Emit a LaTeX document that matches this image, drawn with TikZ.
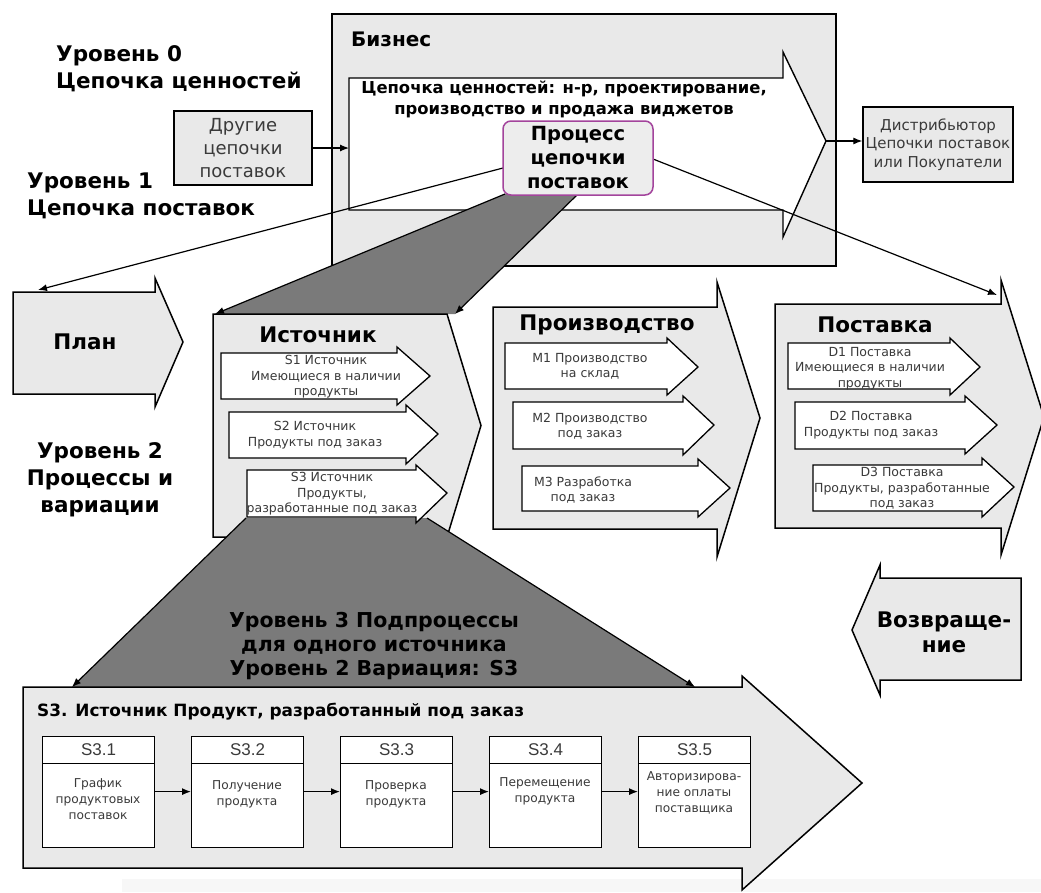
\documentclass[tikz,border=0pt]{standalone}
\usepackage{fontspec}
\setmainfont{DejaVu Sans}
\newfontfamily\labelfont{Liberation Sans}
\usetikzlibrary{arrows.meta}

\definecolor{panel}{HTML}{E9E9E9}
\definecolor{funnel}{HTML}{7A7A7A}
\definecolor{procedge}{HTML}{A3449C}
\definecolor{note}{HTML}{3A3A3A}

% block arrow: style, left, body top, body bottom, body right, head top, head bottom, tip x, tip y
\newcommand{\blockarrow}[9]{%
  \draw[#1] (#2,#3) -- (#5,#3) -- (#5,#6) -- (#8,#9) -- (#5,#7) -- (#5,#4) -- (#2,#4) -- cycle;}

\tikzset{
  bigshape/.style={draw=black, line width=1.5pt, fill=panel},
  whiteshape/.style={draw=black, line width=1.4pt, fill=white},
  smallarrow/.style={draw=black, line width=1.3pt, fill=white},
  conn/.style={draw=black, line width=1.2pt, -{Latex[length=9pt,width=7pt]}},
  lvltext/.style={font=\bfseries\fontsize{21.5}{27}\selectfont, inner sep=0pt},
  headtext/.style={font=\bfseries\fontsize{21.5}{25}\selectfont, inner sep=0pt, align=center},
  midtext/.style={font=\bfseries\fontsize{16.4}{21}\selectfont, inner sep=0pt, align=center},
  smalltext/.style={font=\fontsize{12.5}{15.5}\selectfont, text=note, inner sep=0pt, align=center},
  boxtext/.style={font=\fontsize{12.2}{16}\selectfont, text=note, inner sep=0pt, align=center},
  subhead/.style={draw=black, line width=1.2pt, fill=white, minimum width=112pt, minimum height=27pt,
                  inner sep=0pt, font=\labelfont\fontsize{17}{20}\selectfont, text=note},
  subbody/.style={draw=black, line width=1.2pt, fill=white, minimum width=112pt, minimum height=84pt, inner sep=0pt},
}

\begin{document}
\begin{tikzpicture}[x=1pt, y=-1pt]
  \useasboundingbox (0,0) rectangle (1041,892);
  \fill[white] (0,0) rectangle (1041,892);
  \fill[black!3] (122,879) rectangle (1041,892);

  % ---------- level 0: business and value chain ----------
  \draw[bigshape] (332,14) rectangle (836,266);
  \node[lvltext, font=\bfseries\fontsize{20}{24}\selectfont, anchor=west] (biz) at (351,39) {Бизнес};
  \blockarrow{whiteshape}{349}{78}{210}{783}{52}{237}{826}{141}
  \coordinate (vcin) at (349,148);
  \coordinate (vctip) at (826,141);
  \node[midtext] (vctext) at (564,99.5) {Цепочка ценностей: н-р, проектирование,\\производство и продажа виджетов};

  \node[draw=black, line width=1.3pt, fill=panel, minimum width=138pt, minimum height=74pt, inner sep=0pt,
        font=\fontsize{18}{23}\selectfont, text=note, align=center] (other) at (243,148) {Другие\\цепочки\\поставок};
  \node[draw=black, line width=1.3pt, fill=panel, minimum width=150pt, minimum height=75pt, inner sep=0pt,
        font=\fontsize{15}{18.5}\selectfont, text=note, align=center] (distr) at (938,144.5) {Дистрибьютор\\Цепочки поставок\\или Покупатели};
  \draw[conn] (other.east) -- (vcin);
  \draw[conn] (vctip) -- (distr.west |- vctip);

  \node[lvltext, align=left, anchor=west] (lvl0) at (56,68.5) {Уровень 0\\Цепочка ценностей};
  \node[lvltext, align=left, anchor=west] (lvl1) at (27,196) {Уровень 1\\Цепочка поставок};

  % ---------- level 2: process blocks ----------
  \blockarrow{bigshape}{13}{292}{394}{155}{278}{407}{183}{342}
  \node[headtext] (plan) at (85,342) {План};

  % funnel from the supply chain process down to the source block
  \coordinate (ftl) at (505,194);
  \coordinate (ftr) at (577,195);
  \coordinate (fbl) at (215,314);
  \coordinate (fbr) at (455,314);
  \fill[funnel] (ftl) -- (ftr) -- (fbr) -- (fbl) -- cycle;

  \draw[bigshape] (213,314) -- (447,314) -- (481,425.5) -- (447,537) -- (213,537) -- cycle;
  \node[headtext] (src) at (318,335) {Источник};

  \draw[conn] (ftl) -- (fbl);
  \draw[conn] (ftr) -- (fbr);

  \blockarrow{bigshape}{493}{307}{529}{717}{282}{557}{760}{418}
  \node[headtext] (make) at (607,325) {Производство};
  \blockarrow{bigshape}{775}{304}{528}{1001}{280}{555}{1044}{417}
  \node[headtext] (deliv) at (875,325) {Поставка};

  % supply chain process and its links
  \coordinate (procl) at (503,168);
  \coordinate (procr) at (653,159);
  \coordinate (plantop) at (38,290);
  \coordinate (delivtop) at (997,295);
  \draw[conn] (procl) -- (plantop);
  \draw[conn] (procr) -- (delivtop);
  \node[draw=procedge, line width=1.5pt, fill=black!7, rounded corners=8pt, minimum width=150pt,
        minimum height=74pt, inner sep=0pt, font=\bfseries\fontsize{19.5}{24}\selectfont, align=center]
        (proc) at (578,158) {Процесс\\цепочки\\поставок};

  % funnel from the S3 variation down to the level 3 block
  \coordinate (gtl) at (246,518);
  \coordinate (gtr) at (427,518);
  \coordinate (gbl) at (72,687);
  \coordinate (gbr) at (695,687);
  \fill[funnel] (gtl) -- (gtr) -- (gbr) -- (gbl) -- cycle;

  % source variations
  \blockarrow{smallarrow}{221}{353}{399}{397}{347}{405}{430}{376}
  \node[smalltext] (s1) at (326,377) {S1 Источник\\Имеющиеся в наличии\\продукты};
  \blockarrow{smallarrow}{229}{412}{458}{406}{405}{464}{438}{434}
  \node[smalltext] (s2) at (315,435) {S2 Источник\\Продукты под заказ};
  \blockarrow{smallarrow}{247}{470}{517}{416}{465}{523}{447}{493}
  \node[smalltext] (s3) at (332,494) {S3 Источник\\Продукты,\\разработанные под заказ};

  % make variations
  \blockarrow{smallarrow}{505}{343}{389}{667}{338}{395}{698}{367}
  \node[smalltext] (m1) at (590,366.5) {M1 Производство\\на склад};
  \blockarrow{smallarrow}{513}{402}{449}{683}{396}{455}{714}{425}
  \node[smalltext] (m2) at (590,426) {M2 Производство\\под заказ};
  \blockarrow{smallarrow}{522}{466}{511}{698}{459}{517}{730}{488}
  \node[smalltext] (m3) at (583,490) {M3 Разработка\\под заказ};

  % deliver variations
  \blockarrow{smallarrow}{788}{343}{389}{950}{338}{395}{980}{367}
  \node[smalltext] (d1) at (870,368.5) {D1 Поставка\\Имеющиеся в наличии\\продукты};
  \blockarrow{smallarrow}{795}{402}{449}{965}{396}{454}{997}{425}
  \node[smalltext] (d2) at (871,425) {D2 Поставка\\Продукты под заказ};
  \blockarrow{smallarrow}{813}{465}{511}{982}{458}{517}{1014}{487}
  \node[smalltext] (d3) at (902,488.5) {D3 Поставка\\Продукты, разработанные\\под заказ};

  \node[lvltext, align=center] (lvl2) at (100,480) {Уровень 2\\Процессы и\\вариации};

  % return
  \blockarrow{bigshape}{1021}{578}{680}{880}{565}{695}{852}{630}
  \node[headtext] (ret) at (944,632) {Возвраще-\\ние};

  % ---------- level 3: subprocesses of S3 ----------
  \blockarrow{bigshape}{23}{687}{868}{742}{676}{890}{862}{783}
  \draw[conn] (gtl) -- (gbl);
  \draw[conn] (gtr) -- (gbr);
  \node[lvltext, font=\bfseries\fontsize{20.5}{24}\selectfont, align=center] (lvl3) at (374,646)
       {Уровень 3 Подпроцессы\\для одного источника\\Уровень 2 Вариация: S3};
  \node[midtext, font=\bfseries\fontsize{16.9}{21}\selectfont, anchor=west] (s3head) at (37,712)
       {S3. Источник Продукт, разработанный под заказ};

  \foreach \k/\x in {1/42,2/191,3/340,4/489,5/638}{
    \node[subbody, anchor=north west] (b\k) at (\x,763) {};
    \node[subhead, anchor=north west] (h\k) at (\x,736) {S3.\k};
  }
  \node[boxtext] (t1) at (98,799) {График\\продуктовых\\поставок};
  \node[boxtext] (t2) at (247,794.5) {Получение\\продукта};
  \node[boxtext] (t3) at (396,794.5) {Проверка\\продукта};
  \node[boxtext] (t4) at (545,791) {Перемещение\\продукта};
  \node[boxtext] (t5) at (694,793) {Авторизирова-\\ние оплаты\\поставщика};

  \foreach \a/\b in {1/2,2/3,3/4,4/5}{
    \draw[conn] ([yshift=14pt]b\a.east) -- ([yshift=14pt]b\b.west);
  }
\end{tikzpicture}
\end{document}
